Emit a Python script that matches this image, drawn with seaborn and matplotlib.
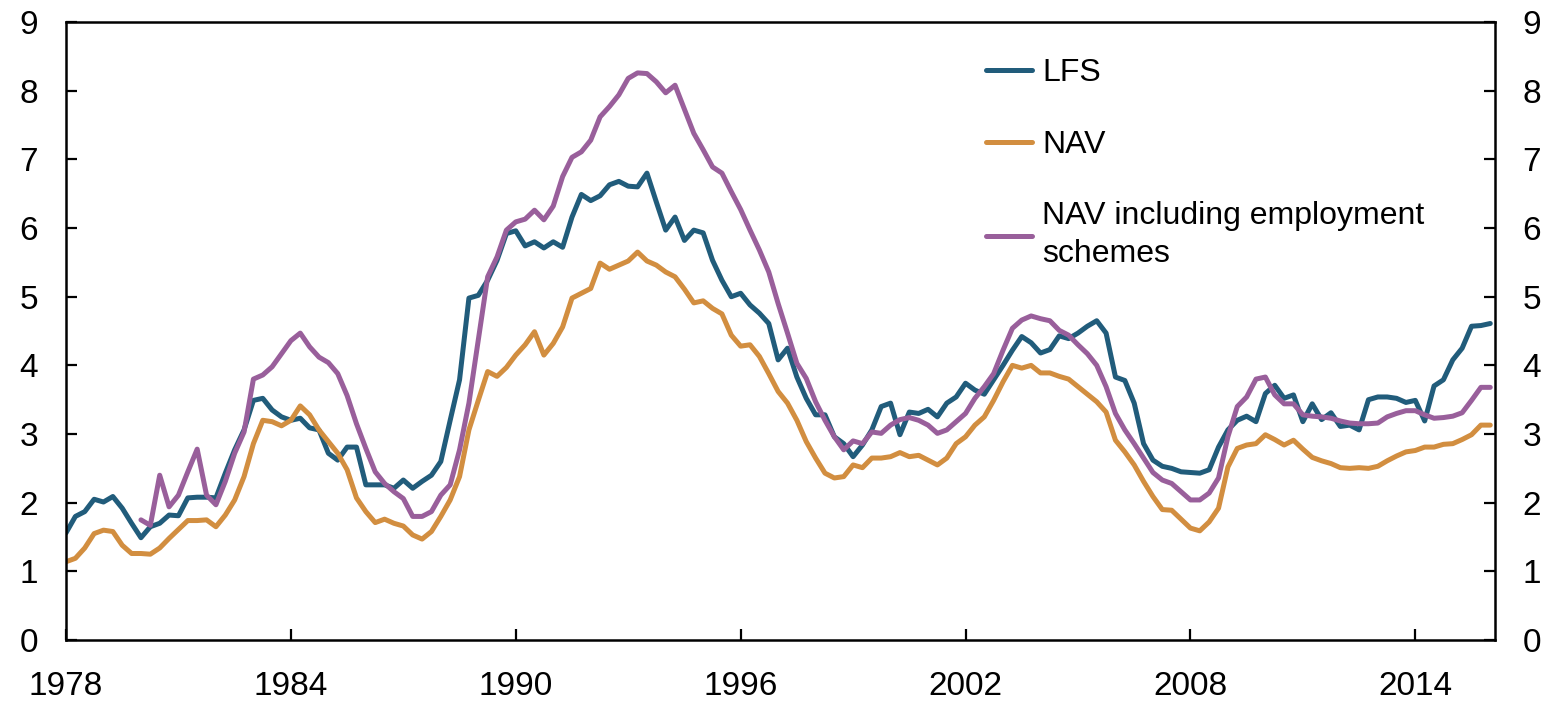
import numpy as np
import pandas as pd
import matplotlib
matplotlib.use("Agg")
import matplotlib.pyplot as plt
import seaborn as sns

# quarterly data, 1978 Q1 onwards (per cent)
lfs = [
    1.56, 1.80, 1.87, 2.05, 2.01, 2.09, 1.92, 1.70,
    1.49, 1.65, 1.70, 1.82, 1.81, 2.07, 2.08, 2.08,
    2.07, 2.43, 2.77, 3.06, 3.49, 3.52, 3.35, 3.25,
    3.20, 3.23, 3.09, 3.06, 2.72, 2.62, 2.81, 2.81,
    2.26, 2.26, 2.26, 2.21, 2.33, 2.21, 2.31, 2.40,
    2.60, 3.20, 3.79, 4.98, 5.02, 5.24, 5.53, 5.92,
    5.96, 5.74, 5.80, 5.71, 5.80, 5.72, 6.16, 6.49,
    6.40, 6.47, 6.63, 6.68, 6.61, 6.60, 6.80, 6.38,
    5.97, 6.16, 5.82, 5.97, 5.93, 5.53, 5.24, 5.00,
    5.05, 4.88, 4.76, 4.61, 4.08, 4.25, 3.83, 3.52,
    3.28, 3.28, 2.96, 2.86, 2.67, 2.84, 3.06, 3.40,
    3.45, 2.99, 3.32, 3.30, 3.36, 3.25, 3.45, 3.54,
    3.74, 3.64, 3.58, 3.79, 4.00, 4.22, 4.42, 4.33,
    4.18, 4.23, 4.43, 4.39, 4.47, 4.57, 4.65, 4.47,
    3.83, 3.78, 3.45, 2.86, 2.62, 2.53, 2.50, 2.45,
    2.44, 2.43, 2.48, 2.81, 3.06, 3.20, 3.26, 3.18,
    3.59, 3.71, 3.52, 3.57, 3.18, 3.44, 3.21, 3.31,
    3.11, 3.13, 3.06, 3.50, 3.54, 3.54, 3.52, 3.46,
    3.49, 3.19, 3.70, 3.79, 4.08, 4.25, 4.57, 4.58,
    4.61,
]

nav = [
    1.14, 1.19, 1.34, 1.55, 1.60, 1.58, 1.38, 1.26,
    1.26, 1.25, 1.34, 1.48, 1.61, 1.74, 1.74, 1.75,
    1.65, 1.82, 2.04, 2.38, 2.86, 3.20, 3.18, 3.12,
    3.20, 3.41, 3.28, 3.06, 2.89, 2.72, 2.48, 2.07,
    1.87, 1.71, 1.76, 1.70, 1.66, 1.53, 1.47, 1.58,
    1.80, 2.04, 2.38, 3.06, 3.49, 3.91, 3.84, 3.97,
    4.15, 4.30, 4.49, 4.15, 4.32, 4.56, 4.98, 5.05,
    5.12, 5.49, 5.40, 5.46, 5.52, 5.65, 5.52, 5.46,
    5.36, 5.29, 5.11, 4.91, 4.94, 4.83, 4.75, 4.44,
    4.28, 4.30, 4.13, 3.88, 3.62, 3.45, 3.20, 2.89,
    2.65, 2.43, 2.36, 2.38, 2.55, 2.51, 2.65, 2.65,
    2.67, 2.73, 2.67, 2.69, 2.62, 2.55, 2.65, 2.86,
    2.96, 3.13, 3.25, 3.49, 3.76, 4.00, 3.96, 4.00,
    3.89, 3.89, 3.84, 3.80, 3.69, 3.58, 3.47, 3.32,
    2.91, 2.74, 2.55, 2.31, 2.09, 1.90, 1.89, 1.76,
    1.63, 1.59, 1.72, 1.92, 2.52, 2.79, 2.84, 2.86,
    2.99, 2.92, 2.84, 2.91, 2.78, 2.66, 2.61, 2.57,
    2.51, 2.50, 2.51, 2.50, 2.53, 2.61, 2.68, 2.74,
    2.76, 2.81, 2.81, 2.85, 2.86, 2.92, 2.99, 3.13,
    3.13,
]

# series starts in 1980
nav_schemes = [np.nan] * 8 + [
    1.75, 1.67, 2.40, 1.94, 2.11, 2.45, 2.78, 2.11,
    1.97, 2.31, 2.72, 3.03, 3.80, 3.86, 3.98, 4.17,
    4.36, 4.47, 4.27, 4.12, 4.04, 3.88, 3.56, 3.15,
    2.79, 2.45, 2.28, 2.16, 2.06, 1.80, 1.80, 1.87,
    2.11, 2.26, 2.77, 3.45, 4.37, 5.29, 5.58, 5.97,
    6.09, 6.13, 6.26, 6.12, 6.32, 6.75, 7.03, 7.11,
    7.28, 7.62, 7.77, 7.94, 8.18, 8.26, 8.25, 8.13,
    7.97, 8.08, 7.73, 7.38, 7.14, 6.89, 6.80, 6.53,
    6.27, 5.97, 5.68, 5.36, 4.90, 4.47, 4.03, 3.81,
    3.47, 3.20, 2.96, 2.77, 2.90, 2.86, 3.03, 3.01,
    3.13, 3.21, 3.24, 3.20, 3.13, 3.01, 3.06, 3.18,
    3.30, 3.52, 3.69, 3.88, 4.22, 4.54, 4.66, 4.72,
    4.68, 4.65, 4.51, 4.44, 4.30, 4.17, 4.00, 3.69,
    3.30, 3.06, 2.86, 2.65, 2.44, 2.33, 2.28, 2.16,
    2.04, 2.04, 2.14, 2.36, 2.96, 3.40, 3.54, 3.80,
    3.83, 3.57, 3.44, 3.44, 3.28, 3.26, 3.25, 3.23,
    3.19, 3.16, 3.15, 3.15, 3.16, 3.25, 3.30, 3.34,
    3.34, 3.28, 3.23, 3.24, 3.26, 3.31, 3.49, 3.68,
    3.68,
]

labels = ["LFS", "NAV", "NAV including employment\nschemes"]
colors = ["#215c7b", "#d28e40", "#995f9b"]
year_ticks = [1978, 1984, 1990, 1996, 2002, 2008, 2014]

dates = 1978 + np.arange(len(lfs)) / 4
df = pd.DataFrame({"date": dates, "lfs": lfs, "nav": nav, "nav_schemes": nav_schemes})

sns.set_theme(style="ticks")
plt.rcParams["font.family"] = ["Liberation Sans", "DejaVu Sans"]
plt.rcParams["text.color"] = "black"

fig = plt.figure(figsize=(15.53, 7.01), dpi=100)
ax = fig.add_axes([0.0425, 0.087, 0.920, 0.8815])

for col, lab, c in zip(["lfs", "nav", "nav_schemes"], labels, colors):
    sns.lineplot(data=df, x="date", y=col, ax=ax, color=c, linewidth=3.6,
                 label=lab, estimator=None)

ax.set_xlim(1978, 2016.12)
ax.set_ylim(0, 9)
ax.set_xticks(year_ticks)
ax.set_yticks(range(10))
ax.set_xlabel("")
ax.set_ylabel("")

for s in ax.spines.values():
    s.set_visible(True)
    s.set_linewidth(1.8)
    s.set_color("black")

ax.tick_params(axis="y", direction="in", length=8, width=1.6, labelsize=24,
               left=True, right=True, labelleft=True, labelright=True, pad=20,
               colors="black")
ax.tick_params(axis="x", direction="in", length=8, width=1.6, labelsize=24,
               pad=22, colors="black")

leg = ax.legend(loc="upper left", bbox_to_anchor=(0.635, 0.962), frameon=False,
                fontsize=23, handlelength=1.45, handletextpad=0.3, labelspacing=1.3,
                borderaxespad=0)
for t in leg.get_texts():
    t.set_color("black")
    t.set_linespacing(1.35)

fig.savefig("out.png", dpi=100)
